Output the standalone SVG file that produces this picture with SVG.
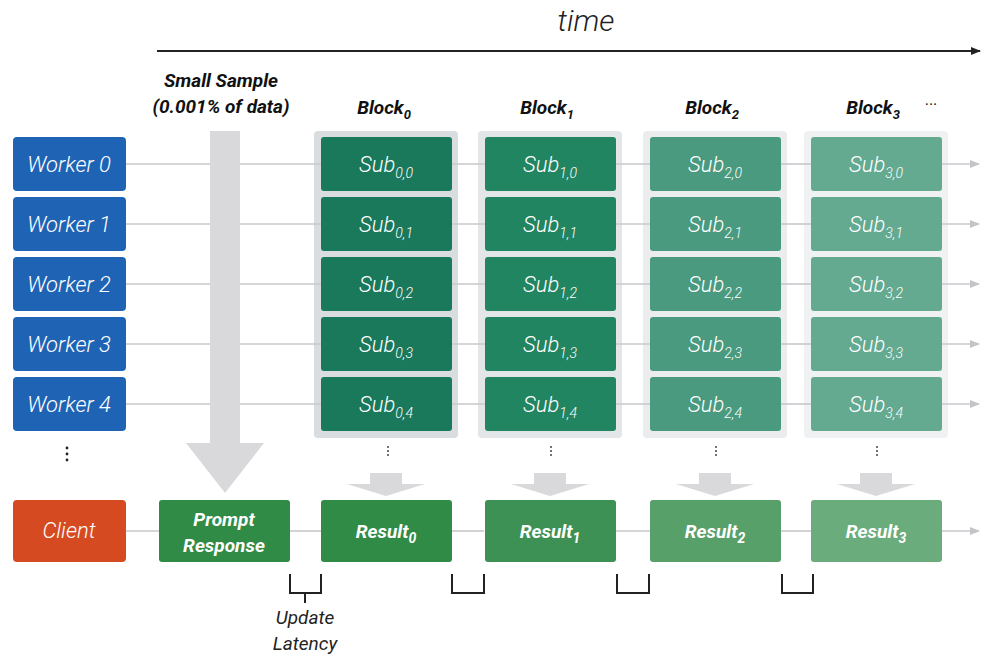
<svg xmlns="http://www.w3.org/2000/svg" width="1000" height="664" viewBox="0 0 1000 664">
<defs>
<marker id="ah" markerWidth="10" markerHeight="8" refX="9" refY="4" orient="auto" markerUnits="userSpaceOnUse">
<path d="M0,0 L10,4 L0,8 z" fill="#c4c4c8"/>
</marker>
<marker id="ahk" markerWidth="10" markerHeight="8" refX="9" refY="4" orient="auto" markerUnits="userSpaceOnUse">
<path d="M0,0 L10,4 L0,8 z" fill="#222"/>
</marker>
<style>
.wk{fill:#1f63b5}
.lbl{font-family:Roboto,"Liberation Sans",sans-serif;font-style:italic;fill:#fff;text-anchor:middle}
.wl{font-size:22px;font-weight:300}
.sl{font-size:22px;font-weight:300}
.rl{font-size:19px;font-weight:700}
.sb{font-size:14px}
.hd{font-family:Roboto,"Liberation Sans",sans-serif;font-style:italic;font-weight:700;fill:#111;text-anchor:middle;font-size:19px}
.conn{stroke:#c8c8cc;stroke-width:1.6;fill:none}
.big{fill:#d9d9dc}
.brk{stroke:#222;stroke-width:2;fill:none}
</style>
</defs>
<rect width="1000" height="664" fill="#fff"/>

<g id="time-axis">
<line x1="157" y1="51" x2="980" y2="51" stroke="#222" stroke-width="1.8" marker-end="url(#ahk)"/>
<text x="586" y="31" font-family="Roboto,'Liberation Sans',sans-serif" font-style="italic" font-weight="300" font-size="30" fill="#222" text-anchor="middle">time</text>
</g>

<g id="headers">
<text class="hd" x="221" y="87">Small Sample</text>
<text class="hd" x="221" y="113">(0.001% of data)</text>
<text class="hd" x="384" y="114" font-size="20">Block<tspan dy="5" font-size="13">0</tspan></text>
<text class="hd" x="547" y="114" font-size="20">Block<tspan dy="5" font-size="13">1</tspan></text>
<text class="hd" x="712" y="114" font-size="20">Block<tspan dy="5" font-size="13">2</tspan></text>
<text class="hd" x="873" y="114" font-size="20">Block<tspan dy="5" font-size="13">3</tspan></text>
<text x="931" y="110" font-family="Roboto,'Liberation Sans',sans-serif" font-size="16" fill="#222" text-anchor="middle">···</text>
</g>

<g id="block-backgrounds">
<rect x="314" y="131" width="144" height="307" rx="4" fill="#d9dde0"/>
<rect x="478" y="131" width="144" height="307" rx="4" fill="#e3e6e8"/>
<rect x="643" y="131" width="144" height="307" rx="4" fill="#eaecee"/>
<rect x="804" y="131" width="144" height="307" rx="4" fill="#eff1f2"/>
</g>

<g id="connectors">
<line class="conn" x1="126" y1="164" x2="321" y2="164"/>
<line class="conn" x1="126" y1="224" x2="321" y2="224"/>
<line class="conn" x1="126" y1="284" x2="321" y2="284"/>
<line class="conn" x1="126" y1="344" x2="321" y2="344"/>
<line class="conn" x1="126" y1="404" x2="321" y2="404"/>
<g>
<line class="conn" x1="452" y1="164" x2="485" y2="164"/><line class="conn" x1="616" y1="164" x2="650" y2="164"/><line class="conn" x1="781" y1="164" x2="811" y2="164"/><line class="conn" x1="942" y1="164" x2="979" y2="164" marker-end="url(#ah)"/>
<line class="conn" x1="452" y1="224" x2="485" y2="224"/><line class="conn" x1="616" y1="224" x2="650" y2="224"/><line class="conn" x1="781" y1="224" x2="811" y2="224"/><line class="conn" x1="942" y1="224" x2="979" y2="224" marker-end="url(#ah)"/>
<line class="conn" x1="452" y1="284" x2="485" y2="284"/><line class="conn" x1="616" y1="284" x2="650" y2="284"/><line class="conn" x1="781" y1="284" x2="811" y2="284"/><line class="conn" x1="942" y1="284" x2="979" y2="284" marker-end="url(#ah)"/>
<line class="conn" x1="452" y1="344" x2="485" y2="344"/><line class="conn" x1="616" y1="344" x2="650" y2="344"/><line class="conn" x1="781" y1="344" x2="811" y2="344"/><line class="conn" x1="942" y1="344" x2="979" y2="344" marker-end="url(#ah)"/>
<line class="conn" x1="452" y1="404" x2="485" y2="404"/><line class="conn" x1="616" y1="404" x2="650" y2="404"/><line class="conn" x1="781" y1="404" x2="811" y2="404"/><line class="conn" x1="942" y1="404" x2="979" y2="404" marker-end="url(#ah)"/>
</g>
<line class="conn" x1="126" y1="531" x2="159" y2="531"/>
<line class="conn" x1="290" y1="531" x2="321" y2="531"/>
<line class="conn" x1="452" y1="531" x2="484" y2="531"/>
<line class="conn" x1="616" y1="531" x2="650" y2="531"/>
<line class="conn" x1="781" y1="531" x2="811" y2="531"/>
<line class="conn" x1="942" y1="531" x2="979" y2="531" marker-end="url(#ah)"/>
<g id="big-arrow">
<rect class="big" x="210" y="131" width="30" height="313"/>
<polygon class="big" points="186,443 264,443 225,493"/>
</g>
<g id="small-arrows">
<rect class="big" x="370" y="473" width="32" height="12"/><polygon class="big" points="347,484 425,484 386,496"/>
<rect class="big" x="534" y="473" width="32" height="12"/><polygon class="big" points="511,484 589,484 550,496"/>
<rect class="big" x="699" y="473" width="32" height="12"/><polygon class="big" points="676,484 754,484 715,496"/>
<rect class="big" x="860" y="473" width="32" height="12"/><polygon class="big" points="837,484 915,484 876,496"/>
</g>
</g>

<g id="workers">
<g id="worker0"><rect class="wk" x="13" y="137" width="113" height="54" rx="4"/><text class="lbl wl" x="69" y="172">Worker 0</text></g>
<g id="worker1"><rect class="wk" x="13" y="197" width="113" height="54" rx="4"/><text class="lbl wl" x="69" y="232">Worker 1</text></g>
<g id="worker2"><rect class="wk" x="13" y="257" width="113" height="54" rx="4"/><text class="lbl wl" x="69" y="292">Worker 2</text></g>
<g id="worker3"><rect class="wk" x="13" y="317" width="113" height="54" rx="4"/><text class="lbl wl" x="69" y="352">Worker 3</text></g>
<g id="worker4"><rect class="wk" x="13" y="377" width="113" height="54" rx="4"/><text class="lbl wl" x="69" y="412">Worker 4</text></g>
<g id="worker-dots" fill="#222"><circle cx="67" cy="448" r="1.4"/><circle cx="67" cy="454" r="1.4"/><circle cx="67" cy="460" r="1.4"/></g>
</g>

<g id="block0">
<g id="sub00"><rect x="321" y="137" width="131" height="54" rx="3" fill="#1a795b"/><text class="lbl sl" x="386" y="172">Sub<tspan class="sb" dy="6">0,0</tspan></text></g>
<g id="sub01"><rect x="321" y="197" width="131" height="54" rx="3" fill="#1a795b"/><text class="lbl sl" x="386" y="232">Sub<tspan class="sb" dy="6">0,1</tspan></text></g>
<g id="sub02"><rect x="321" y="257" width="131" height="54" rx="3" fill="#1a795b"/><text class="lbl sl" x="386" y="292">Sub<tspan class="sb" dy="6">0,2</tspan></text></g>
<g id="sub03"><rect x="321" y="317" width="131" height="54" rx="3" fill="#1a795b"/><text class="lbl sl" x="386" y="352">Sub<tspan class="sb" dy="6">0,3</tspan></text></g>
<g id="sub04"><rect x="321" y="377" width="131" height="54" rx="3" fill="#1a795b"/><text class="lbl sl" x="386" y="412">Sub<tspan class="sb" dy="6">0,4</tspan></text></g>
</g>
<g id="block1">
<g id="sub10"><rect x="485" y="137" width="131" height="54" rx="3" fill="#228561"/><text class="lbl sl" x="550" y="172">Sub<tspan class="sb" dy="6">1,0</tspan></text></g>
<g id="sub11"><rect x="485" y="197" width="131" height="54" rx="3" fill="#228561"/><text class="lbl sl" x="550" y="232">Sub<tspan class="sb" dy="6">1,1</tspan></text></g>
<g id="sub12"><rect x="485" y="257" width="131" height="54" rx="3" fill="#228561"/><text class="lbl sl" x="550" y="292">Sub<tspan class="sb" dy="6">1,2</tspan></text></g>
<g id="sub13"><rect x="485" y="317" width="131" height="54" rx="3" fill="#228561"/><text class="lbl sl" x="550" y="352">Sub<tspan class="sb" dy="6">1,3</tspan></text></g>
<g id="sub14"><rect x="485" y="377" width="131" height="54" rx="3" fill="#228561"/><text class="lbl sl" x="550" y="412">Sub<tspan class="sb" dy="6">1,4</tspan></text></g>
</g>
<g id="block2">
<g id="sub20"><rect x="650" y="137" width="131" height="54" rx="3" fill="#4a9a80"/><text class="lbl sl" x="715" y="172">Sub<tspan class="sb" dy="6">2,0</tspan></text></g>
<g id="sub21"><rect x="650" y="197" width="131" height="54" rx="3" fill="#4a9a80"/><text class="lbl sl" x="715" y="232">Sub<tspan class="sb" dy="6">2,1</tspan></text></g>
<g id="sub22"><rect x="650" y="257" width="131" height="54" rx="3" fill="#4a9a80"/><text class="lbl sl" x="715" y="292">Sub<tspan class="sb" dy="6">2,2</tspan></text></g>
<g id="sub23"><rect x="650" y="317" width="131" height="54" rx="3" fill="#4a9a80"/><text class="lbl sl" x="715" y="352">Sub<tspan class="sb" dy="6">2,3</tspan></text></g>
<g id="sub24"><rect x="650" y="377" width="131" height="54" rx="3" fill="#4a9a80"/><text class="lbl sl" x="715" y="412">Sub<tspan class="sb" dy="6">2,4</tspan></text></g>
</g>
<g id="block3">
<g id="sub30"><rect x="811" y="137" width="131" height="54" rx="3" fill="#63aa91"/><text class="lbl sl" x="876" y="172">Sub<tspan class="sb" dy="6">3,0</tspan></text></g>
<g id="sub31"><rect x="811" y="197" width="131" height="54" rx="3" fill="#63aa91"/><text class="lbl sl" x="876" y="232">Sub<tspan class="sb" dy="6">3,1</tspan></text></g>
<g id="sub32"><rect x="811" y="257" width="131" height="54" rx="3" fill="#63aa91"/><text class="lbl sl" x="876" y="292">Sub<tspan class="sb" dy="6">3,2</tspan></text></g>
<g id="sub33"><rect x="811" y="317" width="131" height="54" rx="3" fill="#63aa91"/><text class="lbl sl" x="876" y="352">Sub<tspan class="sb" dy="6">3,3</tspan></text></g>
<g id="sub34"><rect x="811" y="377" width="131" height="54" rx="3" fill="#63aa91"/><text class="lbl sl" x="876" y="412">Sub<tspan class="sb" dy="6">3,4</tspan></text></g>
</g>
<g id="block-dots" fill="#444">
<circle cx="388" cy="447" r="1"/><circle cx="388" cy="451" r="1"/><circle cx="388" cy="455" r="1"/>
<circle cx="551" cy="447" r="1"/><circle cx="551" cy="451" r="1"/><circle cx="551" cy="455" r="1"/>
<circle cx="716" cy="447" r="1"/><circle cx="716" cy="451" r="1"/><circle cx="716" cy="455" r="1"/>
<circle cx="877" cy="447" r="1"/><circle cx="877" cy="451" r="1"/><circle cx="877" cy="455" r="1"/>
</g>

<g id="client"><rect x="13" y="500" width="113" height="62" rx="4" fill="#d64a21"/><text class="lbl wl" x="69" y="538">Client</text></g>
<g id="prompt-response"><rect x="159" y="500" width="131" height="62" rx="3" fill="#2f8b46"/><text class="lbl rl" x="224" y="526">Prompt</text><text class="lbl rl" x="224" y="552">Response</text></g>
<g id="result0"><rect x="321" y="500" width="131" height="62" rx="3" fill="#2f8b46"/><text class="lbl rl" x="386" y="538">Result<tspan class="sb" dy="5">0</tspan></text></g>
<g id="result1"><rect x="485" y="500" width="131" height="62" rx="3" fill="#3e9154"/><text class="lbl rl" x="550" y="538">Result<tspan class="sb" dy="5">1</tspan></text></g>
<g id="result2"><rect x="650" y="500" width="131" height="62" rx="3" fill="#58a06a"/><text class="lbl rl" x="715" y="538">Result<tspan class="sb" dy="5">2</tspan></text></g>
<g id="result3"><rect x="811" y="500" width="131" height="62" rx="3" fill="#6aac7b"/><text class="lbl rl" x="876" y="538">Result<tspan class="sb" dy="5">3</tspan></text></g>

<g id="latency-brackets">
<path class="brk" d="M290,574 V593 H321 V574 M305,593 V603"/>
<path class="brk" d="M452,574 V593 H484 V574"/>
<path class="brk" d="M617,574 V593 H649 V574"/>
<path class="brk" d="M782,574 V593 H813 V574" stroke="#444"/>
<text x="305" y="624" font-family="Roboto,'Liberation Sans',sans-serif" font-style="italic" font-size="19" fill="#222" text-anchor="middle">Update</text>
<text x="305" y="650" font-family="Roboto,'Liberation Sans',sans-serif" font-style="italic" font-size="19" fill="#222" text-anchor="middle">Latency</text>
</g>
</svg>
